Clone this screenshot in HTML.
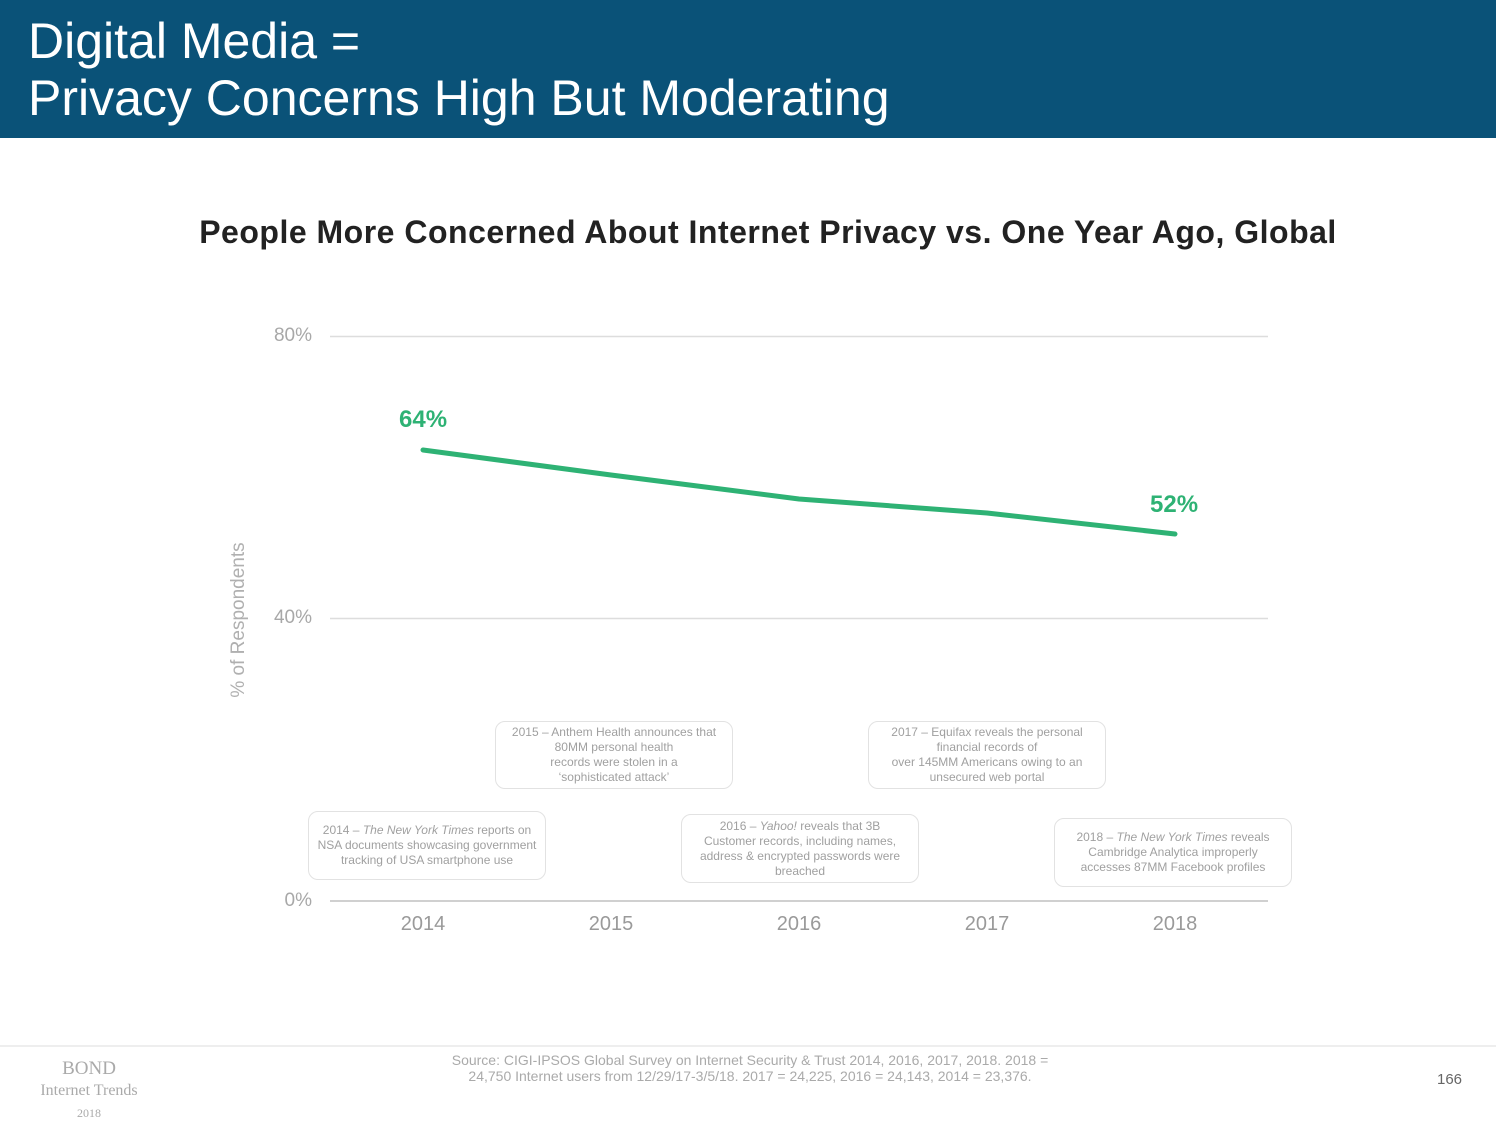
<!DOCTYPE html>
<html><head><meta charset="utf-8"><style>
body{margin:0;width:1496px;height:1108px;position:relative;background:#fff;font-family:"Liberation Sans",sans-serif;overflow:hidden}
.a{position:absolute}
.hdr{left:0;top:0;width:1496px;height:138px;background:#0a5278}
.t{left:28px;color:#fff;font-size:50px;line-height:56px}
.box{position:absolute;border:1px solid #e2e2e2;border-radius:10px;color:#a0a0a0;font-size:12px;line-height:15px;text-align:center;display:table;box-sizing:border-box}
.box>div{display:table-cell;vertical-align:middle}
.yl{color:#a8a8a8;font-size:19px;text-align:right;width:60px;left:252px}
.xl{color:#9a9a9a;font-size:20px;width:80px;text-align:center;top:913px}
</style></head><body>
<div class="a hdr"></div>
<div class="a t" style="top:13px">Digital Media =</div>
<div class="a t" style="top:70px">Privacy Concerns High But Moderating</div>
<div class="a" style="left:0;width:1536px;top:214px;text-align:center;font-size:32px;letter-spacing:0.5px;font-weight:bold;color:#222">People More Concerned About Internet Privacy vs. One Year Ago, Global</div>
<svg class="a" style="left:0;top:0" width="1496" height="1108">
<line x1="330" y1="336.5" x2="1268" y2="336.5" stroke="#ddd" stroke-width="1.5"/>
<line x1="330" y1="618.5" x2="1268" y2="618.5" stroke="#ddd" stroke-width="1.5"/>
<line x1="330" y1="901" x2="1268" y2="901" stroke="#d0d0d0" stroke-width="2"/>
<polyline points="423,450 611,475 799,499 987,513 1175,534" fill="none" stroke="#2eb274" stroke-width="5" stroke-linecap="round" stroke-linejoin="round"/>
<line x1="0" y1="1046" x2="1496" y2="1046" stroke="#eee" stroke-width="2"/>
</svg>
<div class="a yl" style="top:325px">80%</div>
<div class="a yl" style="top:607px">40%</div>
<div class="a yl" style="top:890px">0%</div>
<div class="a" style="left:239px;top:620px;transform:translate(-50%,-50%) rotate(-90deg);color:#b0b0b0;font-size:19px;white-space:nowrap">% of Respondents</div>
<div class="a" style="left:399px;top:406px;color:#2eb274;font-size:24px;font-weight:bold">64%</div>
<div class="a" style="left:1150px;top:491px;color:#2eb274;font-size:24px;font-weight:bold">52%</div>
<div class="a xl" style="left:383px">2014</div>
<div class="a xl" style="left:571px">2015</div>
<div class="a xl" style="left:759px">2016</div>
<div class="a xl" style="left:947px">2017</div>
<div class="a xl" style="left:1135px">2018</div>
<div class="box" style="left:495px;top:721px;width:238px;height:68px"><div>2015 – Anthem Health announces that<br>80MM personal health<br>records were stolen in a<br>‘sophisticated attack’</div></div>
<div class="box" style="left:868px;top:721px;width:238px;height:68px"><div>2017 – Equifax reveals the personal<br>financial records of<br>over 145MM Americans owing to an<br>unsecured web portal</div></div>
<div class="box" style="left:308px;top:811px;width:238px;height:69px"><div>2014 – <i>The New York Times</i> reports on<br>NSA documents showcasing government<br>tracking of USA smartphone use</div></div>
<div class="box" style="left:681px;top:814px;width:238px;height:69px"><div>2016 – <i>Yahoo!</i> reveals that 3B<br>Customer records, including names,<br>address &amp; encrypted passwords were<br>breached</div></div>
<div class="box" style="left:1054px;top:818px;width:238px;height:69px"><div>2018 – <i>The New York Times</i> reveals<br>Cambridge Analytica improperly<br>accesses 87MM Facebook profiles</div></div>
<div class="a" style="left:0;width:178px;top:1058px;text-align:center;font-family:'Liberation Serif',serif;color:#aaa;font-size:19px;line-height:21px">BOND<br><span style="font-size:16px">Internet Trends</span><br><span style="font-size:12px">2018</span></div>
<div class="a" style="left:400px;width:700px;top:1052px;text-align:center;color:#aaa;font-size:14px;line-height:16px">Source: CIGI-IPSOS Global Survey on Internet Security &amp; Trust 2014, 2016, 2017, 2018. 2018 =<br>24,750 Internet users from 12/29/17-3/5/18. 2017 = 24,225, 2016 = 24,143, 2014 = 23,376.</div>
<div class="a" style="left:1437px;top:1071px;color:#666;font-size:15px">166</div>
</body></html>
